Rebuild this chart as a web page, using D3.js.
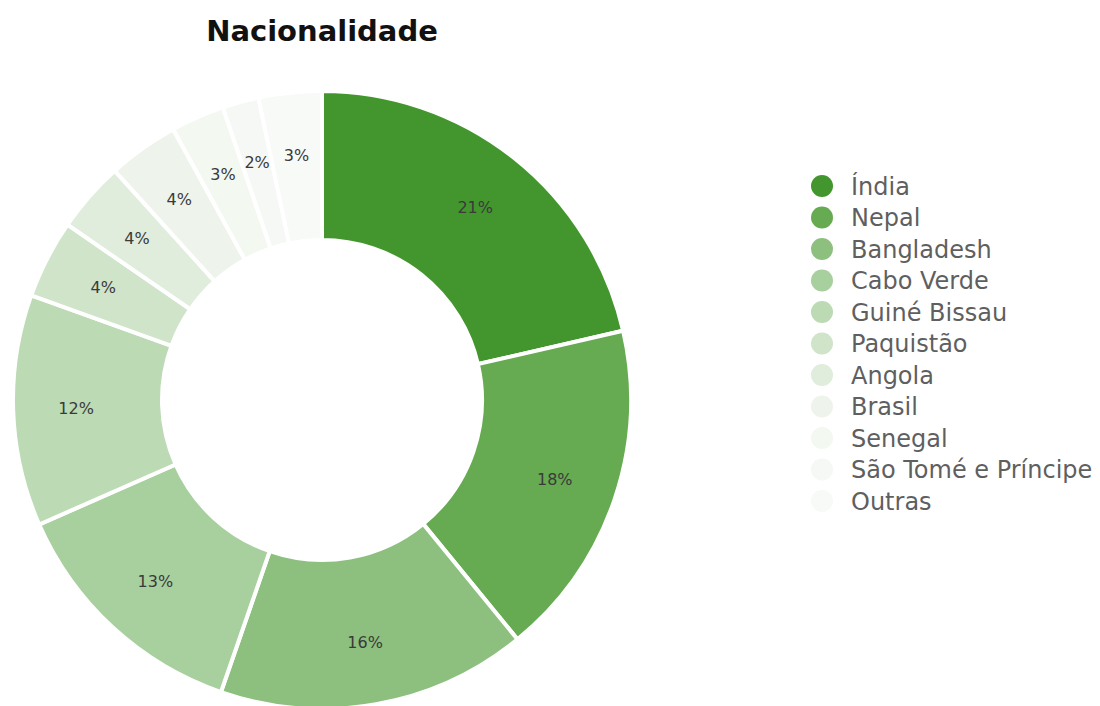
<!DOCTYPE html>
<html>
<head>
<meta charset="utf-8">
<script src="https://cdn.jsdelivr.net/npm/d3@7"></script>
<style>
  body { margin: 0; background: #fff; }
  #chart { width: 1100px; height: 706px; }
  text { font-family: "DejaVu Sans", Verdana, sans-serif; }
</style>
</head>
<body>
<div id="chart"></div>
<script>
// --- data ---
const countries = ["Índia", "Nepal", "Bangladesh", "Cabo Verde", "Guiné Bissau", "Paquistão",
                   "Angola", "Brasil", "Senegal", "São Tomé e Príncipe", "Outras"];
// shares in %
const shares = [21.4, 17.7, 16.2, 13.1, 12.1, 4.1, 3.7, 3.7, 2.8, 1.9, 3.3];
const colors = ["#43962d", "#66ab52", "#8dc07f", "#a8cf9e", "#bcdab4", "#d0e4ca",
                "#e0ecdc", "#eef4ec", "#f3f8f1", "#f5f8f4", "#f8faf7"];

const width = 1100, height = 706;
const cx = 322, cy = 400, outerR = 309, innerR = 160;

const svg = d3.select("#chart").append("svg")
    .attr("width", width)
    .attr("height", height);

svg.append("text")
    .attr("x", cx).attr("y", 41)
    .attr("text-anchor", "middle")
    .attr("font-size", 29).attr("font-weight", "bold")
    .attr("fill", "#111")
    .text("Nacionalidade");

const color = d3.scaleOrdinal().domain(countries).range(colors);

const pie = d3.pie().sort(null).value(d => d.v);
const arcs = pie(countries.map((c, i) => ({ c, v: shares[i] })));

const arc = d3.arc().innerRadius(innerR).outerRadius(outerR);
const labelArc = d3.arc().innerRadius(246).outerRadius(246);

const g = svg.append("g").attr("transform", `translate(${cx},${cy})`);

g.selectAll("path").data(arcs).enter().append("path")
    .attr("d", arc)
    .attr("fill", d => color(d.data.c))
    .attr("stroke", "#fff")
    .attr("stroke-width", 4);

g.selectAll(".pct").data(arcs).enter().append("text")
    .attr("class", "pct")
    .attr("transform", d => `translate(${labelArc.centroid(d)})`)
    .attr("text-anchor", "middle")
    .attr("dy", "0.35em")
    .attr("font-size", 16)
    .attr("font-family", "'DejaVu Sans Condensed', 'DejaVu Sans', sans-serif")
    .attr("fill", "#3a3a3a")
    .text(d => Math.round(d.data.v) + "%");

// legend
const legend = svg.append("g").attr("transform", "translate(822,186)");
const rowH = 31.5;
const items = legend.selectAll("g").data(countries).enter().append("g")
    .attr("transform", (d, i) => `translate(0,${i * rowH})`);

items.append("circle")
    .attr("r", 11)
    .attr("fill", d => color(d));

items.append("text")
    .attr("x", 29)
    .attr("dy", "0.36em")
    .attr("font-size", 24)
    .attr("fill", "#5f5f5f")
    .text(d => d);
</script>
</body>
</html>
